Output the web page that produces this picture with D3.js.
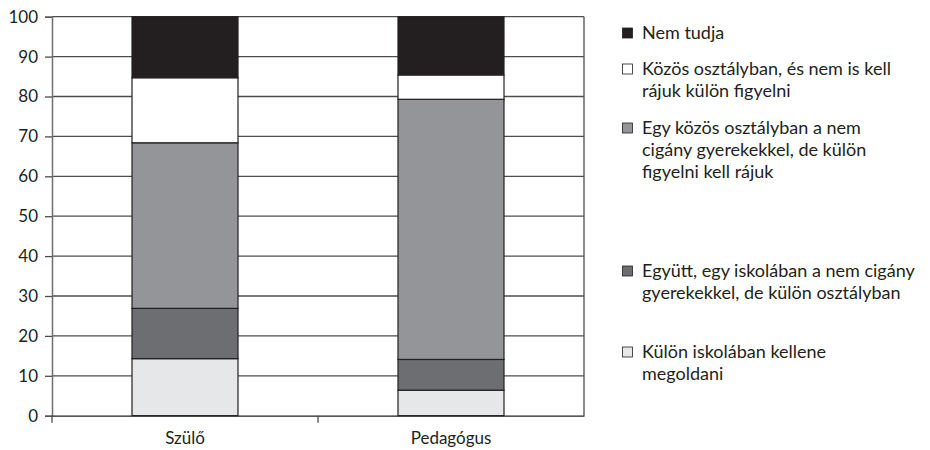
<!DOCTYPE html>
<html>
<head>
<meta charset="utf-8">
<script src="https://cdn.jsdelivr.net/npm/d3@7"></script>
<style>
  body { margin: 0; background: #fff; }
  svg text { font-family: Lato, "Open Sans", sans-serif; fill: #231f20; }
</style>
</head>
<body>
<svg id="chart" width="930" height="450"></svg>
<script>
// Categories (x axis) and stacked series, bottom to top
const categories = ["Szülő", "Pedagógus"];
const seriesNames = [
  "Külön iskolában kellene megoldani",
  "Együtt, egy iskolában a nem cigány gyerekekkel, de külön osztályban",
  "Egy közös osztályban a nem cigány gyerekekkel, de külön figyelni kell rájuk",
  "Közös osztályban, és nem is kell rájuk külön figyelni",
  "Nem tudja"
];
const kulonIskola   = [14.3, 6.4];
const egyuttKulon   = [12.6, 7.7];
const kozosFigyelni = [41.5, 65.2];
const kozosNemKell  = [16.3, 6.1];
const nemTudja      = [15.3, 14.6];
const yTicks = [0, 10, 20, 30, 40, 50, 60, 70, 80, 90, 100];

// Legend text, top to bottom, pre-wrapped into lines
const legendLines = [
  ["Nem tudja"],
  ["Közös osztályban, és nem is kell", "rájuk külön figyelni"],
  ["Egy közös osztályban a nem", "cigány gyerekekkel, de külön", "figyelni kell rájuk"],
  ["Együtt, egy iskolában a nem cigány", "gyerekekkel, de külön osztályban"],
  ["Külön iskolában kellene", "megoldani"]
];

const colors = ["#e6e7e8", "#6d6e71", "#939598", "#ffffff", "#231f20"];

const seriesValues = [kulonIskola, egyuttKulon, kozosFigyelni, kozosNemKell, nemTudja];
const rows = categories.map((c, i) => {
  const r = { cat: c };
  seriesNames.forEach((s, k) => { r[s] = seriesValues[k][i]; });
  return r;
});

const svg = d3.select("#chart");
const margin = { left: 52, right: 346, top: 16.7, bottom: 34.3 };
const W = 930, H = 450;

const x = d3.scaleBand().domain(categories)
  .range([margin.left, W - margin.right]).paddingInner(0).paddingOuter(0);
const y = d3.scaleLinear().domain([0, 100]).range([H - margin.bottom, margin.top]);

// Horizontal gridlines
svg.append("g").selectAll("line").data(yTicks.filter(t => t > 0)).join("line")
  .attr("x1", margin.left).attr("x2", W - margin.right)
  .attr("y1", d => y(d)).attr("y2", d => y(d))
  .attr("stroke", "#4d4d4f").attr("stroke-width", 1.3);

// Right border of plot area
svg.append("line")
  .attr("x1", W - margin.right).attr("x2", W - margin.right)
  .attr("y1", y(100)).attr("y2", y(0))
  .attr("stroke", "#4d4d4f").attr("stroke-width", 1.3);

// Stacked bars
const stack = d3.stack().keys(seriesNames)(rows);
const barW = 106;
svg.append("g").selectAll("g").data(stack).join("g")
  .attr("fill", (d, i) => colors[i])
  .selectAll("rect").data(d => d).join("rect")
  .attr("x", d => x(d.data.cat) + x.bandwidth() / 2 - barW / 2)
  .attr("width", barW)
  .attr("y", d => y(d[1]))
  .attr("height", d => y(d[0]) - y(d[1]))
  .attr("stroke", "#231f20").attr("stroke-width", 1.2);

// Y axis
const yAxis = svg.append("g").attr("transform", `translate(${margin.left},0)`)
  .call(d3.axisLeft(y).tickValues(yTicks).tickSize(7).tickPadding(7).tickFormat(d3.format("d")));
yAxis.select(".domain").attr("stroke", "#6d6e71").attr("stroke-width", 1.5);
yAxis.selectAll(".tick line").attr("stroke", "#4d4d4f").attr("stroke-width", 1.3);
yAxis.selectAll(".tick text").style("font-size", "17px").style("font-family", "Lato, sans-serif").attr("fill", "#231f20");

// X axis
const xAxis = svg.append("g").attr("transform", `translate(0,${y(0)})`)
  .call(d3.axisBottom(x).tickSize(0).tickPadding(16));
xAxis.select(".domain").attr("stroke", "#231f20").attr("stroke-width", 1.3);
xAxis.selectAll(".tick text").style("font-size", "17px").style("font-family", "Lato, sans-serif").attr("fill", "#231f20");
// Category separators below the axis
svg.append("g").selectAll("line").data([margin.left, x(categories[1])]).join("line")
  .attr("x1", d => d).attr("x2", d => d)
  .attr("y1", y(0)).attr("y2", y(0) + 7)
  .attr("stroke", "#4d4d4f").attr("stroke-width", 1.3);

// Legend
const legendY = [33, 69, 128, 271, 352];
const legendColors = colors.slice().reverse();
const lg = svg.append("g");
legendLines.forEach((lines, i) => {
  const g = lg.append("g").attr("transform", `translate(622,${legendY[i]})`);
  g.append("rect").attr("x", 0.5).attr("y", -5).attr("width", 10).attr("height", 10)
    .attr("fill", legendColors[i]).attr("stroke", "#231f20").attr("stroke-width", 0.8);
  lines.forEach((t, j) => {
    g.append("text").attr("x", 20).attr("y", j * 21.8).attr("dy", "0.35em")
      .style("font-size", "18px").text(t);
  });
});
</script>
</body>
</html>
